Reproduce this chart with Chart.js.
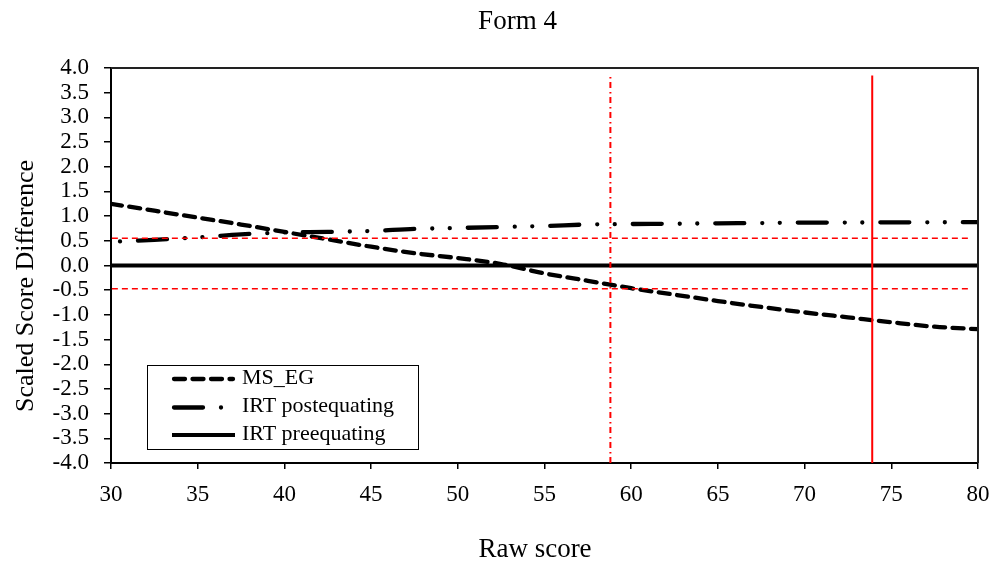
<!DOCTYPE html>
<html>
<head>
<meta charset="utf-8">
<script src="https://cdn.jsdelivr.net/npm/chart.js@4.4.1/dist/chart.umd.min.js"></script>
<style>html,body{margin:0;padding:0;background:#fff}canvas{display:block}</style>
</head>
<body>
<canvas id="c" width="995" height="563"></canvas>
<script>
// ---- data ----
const chartTitle = 'Form 4';
const xAxisTitle = 'Raw score';
const yAxisTitle = 'Scaled Score Difference';
const seriesNames = ['MS_EG', 'IRT postequating', 'IRT preequating'];
const rawScores = [30, 32.5, 35, 37.5, 40, 42.5, 45, 47.5, 50, 52.5, 55, 57.5, 60, 62.5, 65, 67.5, 70, 72.5, 75, 77.5, 80];
const msEg    = [1.25, 1.11, 0.97, 0.83, 0.68, 0.53, 0.38, 0.25, 0.15, 0.03, -0.16, -0.31, -0.46, -0.59, -0.72, -0.84, -0.95, -1.05, -1.15, -1.24, -1.29];
const irtPost = [0.48, 0.52, 0.57, 0.63, 0.67, 0.68, 0.70, 0.74, 0.76, 0.78, 0.80, 0.83, 0.84, 0.845, 0.855, 0.86, 0.87, 0.87, 0.875, 0.875, 0.88];
const irtPreX = [30, 80];
const irtPre  = [0, 0];
const bandX = [30.05, 79.5];
const bandUpper = [0.55, 0.55];
const bandLower = [-0.47, -0.47];
const cutLowX = [58.8, 58.8];
const cutHighX = [73.9, 73.9];
const cutY = [-4, 3.85];
const xMin = 30, xMax = 80, xStep = 5;
const yMin = -4, yMax = 4, yStep = 0.5;

const FONT = '"Liberation Serif", "Times New Roman", serif';
Chart.defaults.color = '#000';
Chart.defaults.font.family = FONT;

const pts = (xs, ys) => xs.map((x, i) => ({x: x, y: ys[i]}));

const base = {pointRadius: 0, pointHoverRadius: 0, fill: false, borderJoinStyle: 'round'};

const datasets = [
  Object.assign({}, base, {label: seriesNames[0], data: pts(rawScores, msEg), borderColor: '#000', borderWidth: 4.3,
    borderDash: [11, 7.5], borderCapStyle: 'round', cubicInterpolationMode: 'monotone', order: 1}),
  Object.assign({}, base, {label: seriesNames[1], data: pts(rawScores, irtPost), borderColor: '#000', borderWidth: 4.3,
    borderDash: [29, 18, 0.01, 17.5, 0.01, 18], borderDashOffset: 55.5, borderCapStyle: 'round', cubicInterpolationMode: 'monotone', order: 1}),
  Object.assign({}, base, {label: seriesNames[2], data: pts(irtPreX, irtPre), borderColor: '#000', borderWidth: 4, borderCapStyle: 'butt', order: 1}),
  Object.assign({}, base, {label: 'ref1', data: pts(bandX, bandUpper), borderColor: '#ff0000', borderWidth: 1.5, borderDash: [6, 4], order: 0}),
  Object.assign({}, base, {label: 'ref2', data: pts(bandX, bandLower), borderColor: '#ff0000', borderWidth: 1.5, borderDash: [6, 4], order: 0}),
  Object.assign({}, base, {label: 'ref3', data: pts(cutLowX, cutY), borderColor: '#ff0000', borderWidth: 2, borderDash: [6, 3.5, 1.5, 4], order: 0}),
  Object.assign({}, base, {label: 'ref4', data: pts(cutHighX, cutY), borderColor: '#ff0000', borderWidth: 2, order: 0})
];

const decor = {
  id: 'decor',
  afterDraw(chart) {
    const {ctx, chartArea: a} = chart;
    ctx.save();
    // top & right frame
    ctx.strokeStyle = '#222';
    ctx.lineWidth = 2;
    ctx.setLineDash([]);
    ctx.beginPath();
    ctx.moveTo(a.left, a.top);
    ctx.lineTo(a.right, a.top);
    ctx.lineTo(a.right, a.bottom);
    ctx.stroke();
    // titles
    ctx.fillStyle = '#000';
    ctx.textAlign = 'center';
    ctx.textBaseline = 'alphabetic';
    ctx.font = '27px ' + FONT;
    ctx.fillText(chartTitle, 517.5, 29.3);
    ctx.fillText(xAxisTitle, 535, 557.3);
    ctx.save();
    ctx.translate(32.5, 286);
    ctx.rotate(-Math.PI / 2);
    ctx.font = '26px ' + FONT;
    ctx.fillText(yAxisTitle, 0, 0);
    ctx.restore();
    // legend
    const bx = 147, by = 365, bw = 271, bh = 84;
    ctx.fillStyle = '#fff';
    ctx.fillRect(bx, by, bw, bh);
    ctx.strokeStyle = '#000';
    ctx.lineWidth = 1;
    ctx.strokeRect(bx + 0.5, by + 0.5, bw, bh);
    const rows = [379, 407.5, 435];
    for (let i = 0; i < 3; i++) {
      const ds = chart.data.datasets[i];
      ctx.strokeStyle = ds.borderColor;
      ctx.lineWidth = ds.borderWidth;
      ctx.lineCap = ds.borderCapStyle || 'butt';
      ctx.setLineDash(ds.borderDash || []);
      ctx.lineDashOffset = 0;
      const x0 = ctx.lineCap === 'round' ? 174 : 172;
      const x1 = ctx.lineCap === 'round' ? 233 : 235;
      ctx.beginPath();
      ctx.moveTo(x0, rows[i]);
      ctx.lineTo(x1, rows[i]);
      ctx.stroke();
      ctx.setLineDash([]);
      ctx.fillStyle = '#000';
      ctx.textAlign = 'left';
      ctx.textBaseline = 'middle';
      ctx.font = '22px ' + FONT;
      ctx.fillText(ds.label, 242, rows[i] - 1);
    }
    ctx.restore();
  }
};

new Chart(document.getElementById('c'), {
  type: 'line',
  data: {datasets: datasets},
  options: {
    responsive: false,
    animation: false,
    devicePixelRatio: 1,
    layout: {padding: {top: 68, right: 17, bottom: 0, left: 0}},
    plugins: {legend: {display: false}, title: {display: false}, tooltip: {enabled: false}},
    scales: {
      x: {
        type: 'linear', min: xMin, max: xMax,
        afterFit: s => { s.height = 100; s.paddingLeft = 0; s.paddingRight = 0; },
        border: {display: true, color: '#000', width: 2},
        grid: {drawOnChartArea: false, drawTicks: true, tickLength: 6, color: '#000', lineWidth: 1.5},
        ticks: {stepSize: xStep, autoSkip: false, maxRotation: 0, padding: 12, color: '#000',
          font: {family: FONT, size: 23, lineHeight: 1.2}}
      },
      y: {
        type: 'linear', min: yMin, max: yMax,
        afterFit: s => { s.width = 111; s.paddingTop = 0; s.paddingBottom = 0; },
        border: {display: true, color: '#000', width: 2},
        grid: {drawOnChartArea: false, drawTicks: true, tickLength: 7, color: '#000', lineWidth: 1.5},
        ticks: {stepSize: yStep, autoSkip: false, padding: 15, color: '#000',
          callback: v => Number(v).toFixed(1),
          font: {family: FONT, size: 23, lineHeight: 1}}
      }
    }
  },
  plugins: [decor]
});
</script>
</body>
</html>
